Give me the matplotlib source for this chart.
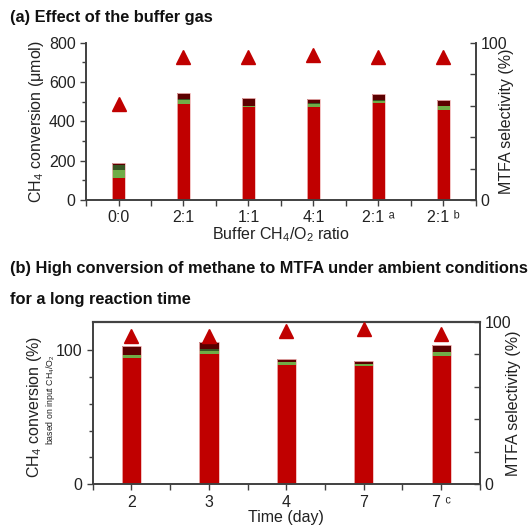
import numpy as np
import matplotlib
matplotlib.use("Agg")
import matplotlib.pyplot as plt
from matplotlib.ticker import MultipleLocator, FixedLocator

plt.rcParams['font.family'] = ['Liberation Sans', 'DejaVu Sans']
plt.rcParams['mathtext.fontset'] = 'custom'
plt.rcParams['mathtext.rm'] = 'Liberation Sans'
plt.rcParams['mathtext.it'] = 'Liberation Sans'

# Data ---------------------------------------------------------------
a_labels = ['0:0', '2:1', '1:1', '4:1', '2:1 \u1d43', '2:1 \u1d47']
a_mtfa = [114, 488, 471, 471, 492, 456]
a_green = [38, 20, 6, 17, 12, 20]
a_dkgreen = [26, 4, 2, 3, 4, 2]
a_maroon = [12, 30, 40, 21, 33, 30]
a_sel = [61, 90.5, 91, 92, 91, 91]

b_labels = ['2', '3', '4', '7', '7 \u1d9c']
b_mtfa = [94.3, 97.3, 89.1, 88.1, 95.3]
b_green = [1.8, 2.2, 1.8, 1.6, 3.3]
b_dkgreen = [0.3, 1.5, 0.3, 0.2, 0.3]
b_maroon = [6.3, 4.7, 2.4, 1.9, 4.6]
b_sel = [91.2, 91.0, 94.5, 95.3, 92.8]

RED = '#c00000'
GREEN = '#70ad47'
DKGREEN = '#375623'
MAROON = '#5c0000'
SPINE = '#404040'
TXT = '#222222'
FS = 11.5


def stacked(ax, parts, width):
    x = np.arange(len(parts[0]))
    bottom = np.zeros(len(x))
    for vals, col in zip(parts, [RED, GREEN, DKGREEN, MAROON]):
        vals = np.array(vals, dtype=float)
        ax.bar(x, vals, width, bottom=bottom, color=col, linewidth=0, zorder=2)
        bottom += vals
    # light outline around the whole stack
    ax.bar(x, bottom, width, fill=False, edgecolor='#f0b8b8', linewidth=0.6, zorder=2.5)
    return x


def style(ax, ax2, n):
    ax.set_xlim(-0.5, n - 0.5)
    ax.xaxis.set_major_locator(FixedLocator(np.arange(n)))
    ax.xaxis.set_minor_locator(FixedLocator(np.arange(n + 1) - 0.5))
    ax.tick_params(axis='x', which='both', direction='out', length=4,
                   width=1, colors=SPINE, labelcolor=TXT, labelsize=FS)
    ax.tick_params(axis='y', which='both', direction='out', width=1,
                   colors=SPINE, labelcolor=TXT, labelsize=FS)
    ax.tick_params(axis='y', which='major', length=4)
    ax.tick_params(axis='y', which='minor', length=3)
    ax2.tick_params(axis='y', which='both', direction='in', length=4,
                    width=1, colors=SPINE, labelcolor=TXT, labelsize=FS)
    for a in (ax, ax2):
        for s in a.spines.values():
            s.set_color(SPINE)
            s.set_linewidth(1.2)


fig = plt.figure(figsize=(5.28, 5.25), dpi=100)

# Panel (a) ----------------------------------------------------------
ax = fig.add_axes([0.163, 0.619, 0.738, 0.30])
x = stacked(ax, [a_mtfa, a_green, a_dkgreen, a_maroon], 0.2)
ax.set_ylim(0, 800)
ax.yaxis.set_major_locator(MultipleLocator(200))
ax.yaxis.set_minor_locator(MultipleLocator(100))
ax.set_xticks(x)
ax.set_xticklabels(a_labels)
ax.set_ylabel('CH$_4$ conversion (\u03bcmol)', fontsize=FS, color=TXT, labelpad=2)
ax.set_xlabel('Buffer CH$_4$/O$_2$ ratio', fontsize=FS, color=TXT, labelpad=0)
ax2 = ax.twinx()
ax2.plot(x, a_sel, '^', color=RED, markersize=10.5, zorder=3)
ax2.set_ylim(0, 100)
ax2.set_yticks(np.arange(0, 101, 20))
ax2.set_yticklabels(['0', '', '', '', '', '100'])
ax2.set_ylabel('MTFA selectivity (%)', fontsize=FS, color=TXT, labelpad=-6)
style(ax, ax2, len(x))
ax.spines['top'].set_visible(False)
ax2.spines['top'].set_visible(False)
fig.text(0.019, 0.966, '(a) Effect of the buffer gas', fontsize=11.8,
         fontweight='bold', color='#111111', va='center')

# Panel (b) ----------------------------------------------------------
bx = fig.add_axes([0.1755, 0.0775, 0.7335, 0.3095])
x = stacked(bx, [b_mtfa, b_green, b_dkgreen, b_maroon], 0.25)
bx.set_ylim(0, 121)
bx.set_yticks([0, 100])
bx.yaxis.set_minor_locator(FixedLocator([20, 40, 60, 80]))
bx.set_xticks(x)
bx.set_xticklabels(b_labels)
bx.set_xlabel('Time (day)', fontsize=FS, color=TXT, labelpad=0)
bx2 = bx.twinx()
bx2.plot(x, b_sel, '^', color=RED, markersize=10.5, zorder=3)
bx2.set_ylim(0, 100)
bx2.set_yticks(np.arange(0, 101, 20))
bx2.set_yticklabels(['0', '', '', '', '', '100'])
bx2.set_ylabel('MTFA selectivity (%)', fontsize=FS, color=TXT, labelpad=-4)
style(bx, bx2, len(x))
bx.spines['top'].set_color('#555555')
bx.spines['top'].set_linewidth(1.6)
fig.text(0.066, 0.225, 'CH$_4$ conversion (%)', rotation=90, fontsize=FS,
         color=TXT, ha='center', va='center')
fig.text(0.096, 0.238, 'based on input CH$_4$/O$_2$', rotation=90, fontsize=6.3,
         color=TXT, ha='center', va='center')
fig.text(0.019, 0.489, '(b) High conversion of methane to MTFA under ambient conditions',
         fontsize=11.8, fontweight='bold', color='#111111', va='center')
fig.text(0.019, 0.430, 'for a long reaction time', fontsize=11.8,
         fontweight='bold', color='#111111', va='center')

fig.savefig('out.png', dpi=100)
